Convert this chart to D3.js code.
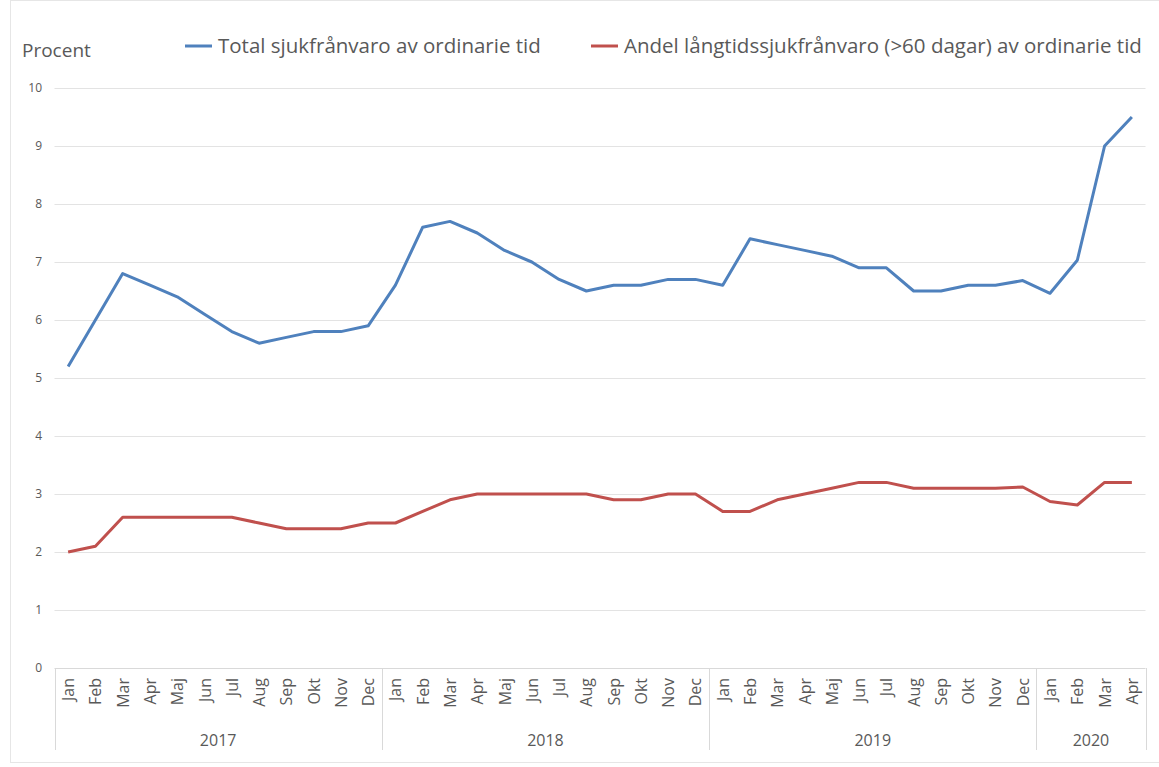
<!DOCTYPE html>
<html>
<head>
<meta charset="utf-8">
<script src="https://cdn.jsdelivr.net/npm/d3@7/dist/d3.min.js"></script>
<style>
  body { margin: 0; background: #fff; }
  text { font-family: "Open Sans", Lato, sans-serif; fill: #595959; }
</style>
</head>
<body>
<svg width="1159" height="767"></svg>
<script>
(function() {
  // data
  var years = ["2017", "2018", "2019", "2020"];
  var months = ["Jan", "Feb", "Mar", "Apr", "Maj", "Jun", "Jul", "Aug", "Sep", "Okt", "Nov", "Dec"];
  var monthsPerYear = [12, 12, 12, 4];
  var yTicks = [0, 1, 2, 3, 4, 5, 6, 7, 8, 9, 10];

  var totalValues = [
    5.2, 6.0, 6.8, 6.6, 6.4, 6.1, 5.8, 5.6, 5.7, 5.8, 5.8, 5.9,
    6.6, 7.6, 7.7, 7.5, 7.2, 7.0, 6.7, 6.5, 6.6, 6.6, 6.7, 6.7,
    6.6, 7.4, 7.3, 7.2, 7.1, 6.9, 6.9, 6.5, 6.5, 6.6, 6.6, 6.68,
    6.46, 7.03, 9.0, 9.5
  ];
  var longValues = [
    2.0, 2.1, 2.6, 2.6, 2.6, 2.6, 2.6, 2.5, 2.4, 2.4, 2.4, 2.5,
    2.5, 2.7, 2.9, 3.0, 3.0, 3.0, 3.0, 3.0, 2.9, 2.9, 3.0, 3.0,
    2.7, 2.7, 2.9, 3.0, 3.1, 3.2, 3.2, 3.1, 3.1, 3.1, 3.1, 3.12,
    2.87, 2.81, 3.2, 3.2
  ];
  var seriesNames = [
    "Total sjukfrånvaro av ordinarie tid",
    "Andel långtidssjukfrånvaro (>60 dagar) av ordinarie tid"
  ];
  var seriesColors = ["#4f81bd", "#c0504d"];

  // build categories: one key per month
  var cats = [];
  years.forEach(function(y, i) {
    months.slice(0, monthsPerYear[i]).forEach(function(m) {
      cats.push({ key: y + "-" + m, month: m, year: y });
    });
  });

  var svg = d3.select("svg");
  var left = 54.5, right = 1145.5, top = 88, bottom = 668;

  var x = d3.scaleBand()
      .domain(cats.map(function(d) { return d.key; }))
      .range([left, right]);

  var y = d3.scaleLinear()
      .domain([0, 10])
      .range([bottom, top]);

  // outer frame
  svg.append("rect")
      .attr("x", 10.5).attr("y", 0.5)
      .attr("width", 1160).attr("height", 762)
      .attr("fill", "none")
      .attr("stroke", "#e6e6e6");

  // gridlines
  svg.append("g")
    .selectAll("line")
    .data(yTicks)
    .enter().append("line")
      .attr("x1", left).attr("x2", right)
      .attr("y1", function(d) { return Math.round(y(d)) + 0.5; })
      .attr("y2", function(d) { return Math.round(y(d)) + 0.5; })
      .attr("stroke", function(d) { return d === 0 ? "#d9d9d9" : "#e3e3e3"; })
      .attr("stroke-width", 1);

  // y tick labels
  svg.append("g")
    .selectAll("text")
    .data(yTicks)
    .enter().append("text")
      .attr("x", 42)
      .attr("y", function(d) { return y(d) + 4; })
      .attr("text-anchor", "end")
      .attr("font-size", 12)
      .text(function(d) { return d; });

  svg.append("text")
      .attr("x", 22).attr("y", 57)
      .attr("font-size", 19)
      .text("Procent");

  // month labels
  svg.append("g")
    .selectAll("text")
    .data(cats)
    .enter().append("text")
      .attr("transform", function(d) {
        return "translate(" + (x(d.key) + x.bandwidth() / 2 + 6) + "," + 678 + ") rotate(-90)";
      })
      .attr("text-anchor", "end")
      .attr("font-size", 16)
      .text(function(d) { return d.month; });

  // year groups: dividers + labels
  var starts = [0];
  monthsPerYear.forEach(function(n, i) { starts.push(starts[i] + n); });

  svg.append("g")
    .selectAll("line")
    .data(starts)
    .enter().append("line")
      .attr("x1", function(d) { return Math.round(left + d * x.step()) + 0.5; })
      .attr("x2", function(d) { return Math.round(left + d * x.step()) + 0.5; })
      .attr("y1", bottom).attr("y2", 750)
      .attr("stroke", "#d9d9d9");

  svg.append("g")
    .selectAll("text")
    .data(years)
    .enter().append("text")
      .attr("x", function(d, i) { return left + (starts[i] + monthsPerYear[i] / 2) * x.step(); })
      .attr("y", 746)
      .attr("text-anchor", "middle")
      .attr("font-size", 16)
      .text(function(d) { return d; });

  // lines
  var line = d3.line()
      .x(function(d, i) { return x(cats[i].key) + x.bandwidth() / 2; })
      .y(function(d) { return y(d); });

  [totalValues, longValues].forEach(function(vals, i) {
    svg.append("path")
        .datum(vals)
        .attr("fill", "none")
        .attr("stroke", seriesColors[i])
        .attr("stroke-width", 3)
        .attr("stroke-linejoin", "round")
        .attr("d", line);
  });

  // legend
  var legendX = [185, 591];
  var legend = svg.append("g").selectAll("g")
    .data(seriesNames)
    .enter().append("g")
      .attr("transform", function(d, i) { return "translate(" + legendX[i] + ",46)"; });

  legend.append("line")
      .attr("x1", 0).attr("x2", 27)
      .attr("stroke", function(d, i) { return seriesColors[i]; })
      .attr("stroke-width", 3);

  legend.append("text")
      .attr("x", 33).attr("y", 7)
      .attr("font-size", 20.5)
      .text(function(d) { return d; });
})();
</script>
</body>
</html>
